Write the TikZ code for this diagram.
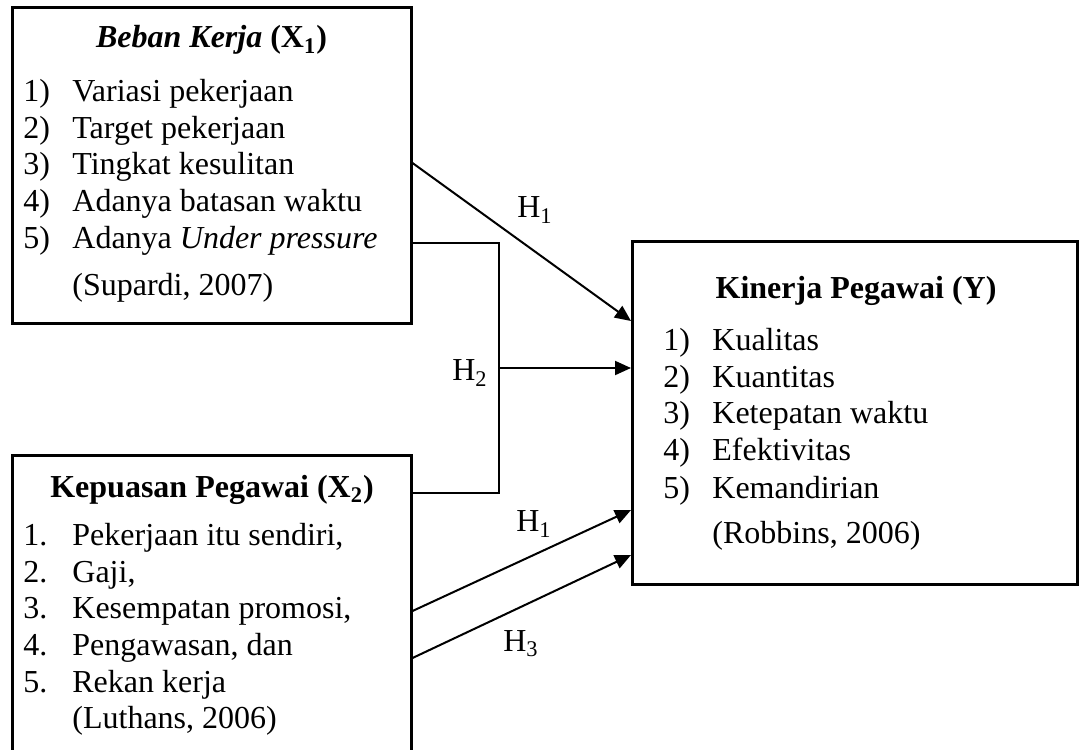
\documentclass[tikz,border=0pt]{standalone}
\usepackage{fontspec}
\setmainfont{Liberation Serif}
\usetikzlibrary{arrows.meta}
\tikzset{
  box/.style={draw=black, line width=1.5pt, rectangle, inner sep=0pt},
  txt/.style={anchor=base west, inner sep=0pt, font=\fontsize{16}{18}\selectfont},
  ttl/.style={anchor=base, inner sep=0pt, font=\fontsize{16}{18}\selectfont\bfseries},
  lbl/.style={anchor=center, inner sep=0pt, font=\fontsize{16}{18}\selectfont},
  conn/.style={draw=black, line width=1pt},
  arr/.style={conn, -{Triangle[length=8pt,width=7pt]}},
}
\begin{document}
\begin{tikzpicture}[x=0.5pt, y=-0.5pt]
\useasboundingbox (0,0) rectangle (1080,749);
\clip (0,0) rectangle (1080,749);
\fill[white] (0,0) rectangle (1080,749);

% boxes
\node[box, minimum width=199.5pt, minimum height=157.5pt] (x1) at (211.5,165.5) {};
\node[box, minimum width=199.5pt, minimum height=157.5pt] (x2) at (211.5,612.5) {};
\node[box, minimum width=222.5pt, minimum height=171.5pt] (y) at (855,412.5) {};

% X1 text
\node[ttl] (t1) at (211.5,48) {\textit{Beban Kerja} (X\textsubscript{1})};
\node[txt] (a1n) at (23,102) {1)}; \node[txt] (a1t) at (72,102) {Variasi pekerjaan};
\node[txt] (a2n) at (23,138) {2)}; \node[txt] (a2t) at (72,138) {Target pekerjaan};
\node[txt] (a3n) at (23,174) {3)}; \node[txt] (a3t) at (72,174) {Tingkat kesulitan};
\node[txt] (a4n) at (23,211) {4)}; \node[txt] (a4t) at (72,211) {Adanya batasan waktu};
\node[txt] (a5n) at (23,248) {5)}; \node[txt] (a5t) at (72,248) {Adanya \textit{Under pressure}};
\node[txt] (a6t) at (72,295) {(Supardi, 2007)};

% X2 text
\node[ttl] (t2) at (212,497) {Kepuasan Pegawai (X\textsubscript{2})};
\node[txt] (b1n) at (23,545) {1.}; \node[txt] (b1t) at (72,545) {Pekerjaan itu sendiri,};
\node[txt] (b2n) at (23,582) {2.}; \node[txt] (b2t) at (72,582) {Gaji,};
\node[txt] (b3n) at (23,618) {3.}; \node[txt] (b3t) at (72,618) {Kesempatan promosi,};
\node[txt] (b4n) at (23,655) {4.}; \node[txt] (b4t) at (72,655) {Pengawasan, dan};
\node[txt] (b5n) at (23,692) {5.}; \node[txt] (b5t) at (72,692) {Rekan kerja};
\node[txt] (b6t) at (72,728) {(Luthans, 2006)};

% Y text
\node[ttl] (t3) at (856,298) {Kinerja Pegawai (Y)};
\node[txt] (c1n) at (663,350) {1)}; \node[txt] (c1t) at (712,350) {Kualitas};
\node[txt] (c2n) at (663,387) {2)}; \node[txt] (c2t) at (712,387) {Kuantitas};
\node[txt] (c3n) at (663,423) {3)}; \node[txt] (c3t) at (712,423) {Ketepatan waktu};
\node[txt] (c4n) at (663,460) {4)}; \node[txt] (c4t) at (712,460) {Efektivitas};
\node[txt] (c5n) at (663,498) {5)}; \node[txt] (c5t) at (712,498) {Kemandirian};
\node[txt] (c6t) at (712,543) {(Robbins, 2006)};

% connector end points
\coordinate (s1) at (x1.east |- 0,163);
\coordinate (e1) at (y.west |- 0,321);
\coordinate (s2a) at (x1.east |- 0,243);
\coordinate (s2b) at (x2.east |- 0,493);
\coordinate (j2) at (499,368);
\coordinate (e2) at (y.west |- 0,368);
\coordinate (s3) at (x2.east |- 0,611);
\coordinate (e3) at (y.west |- 0,510);
\coordinate (s4) at (x2.east |- 0,658);
\coordinate (e4) at (y.west |- 0,555);

% connectors
\draw[arr] (s1) -- (e1);
\draw[conn] (s2a) -| (j2) |- (s2b);
\draw[arr] (j2) -- (e2);
\draw[arr] (s3) -- (e3);
\draw[arr] (s4) -- (e4);

% labels
\node[lbl] (h1a) at (535,210) {H\textsubscript{1}};
\node[lbl] (h2) at (470,373) {H\textsubscript{2}};
\node[lbl] (h1b) at (534,524) {H\textsubscript{1}};
\node[lbl] (h3) at (521,644) {H\textsubscript{3}};
\end{tikzpicture}
\end{document}
